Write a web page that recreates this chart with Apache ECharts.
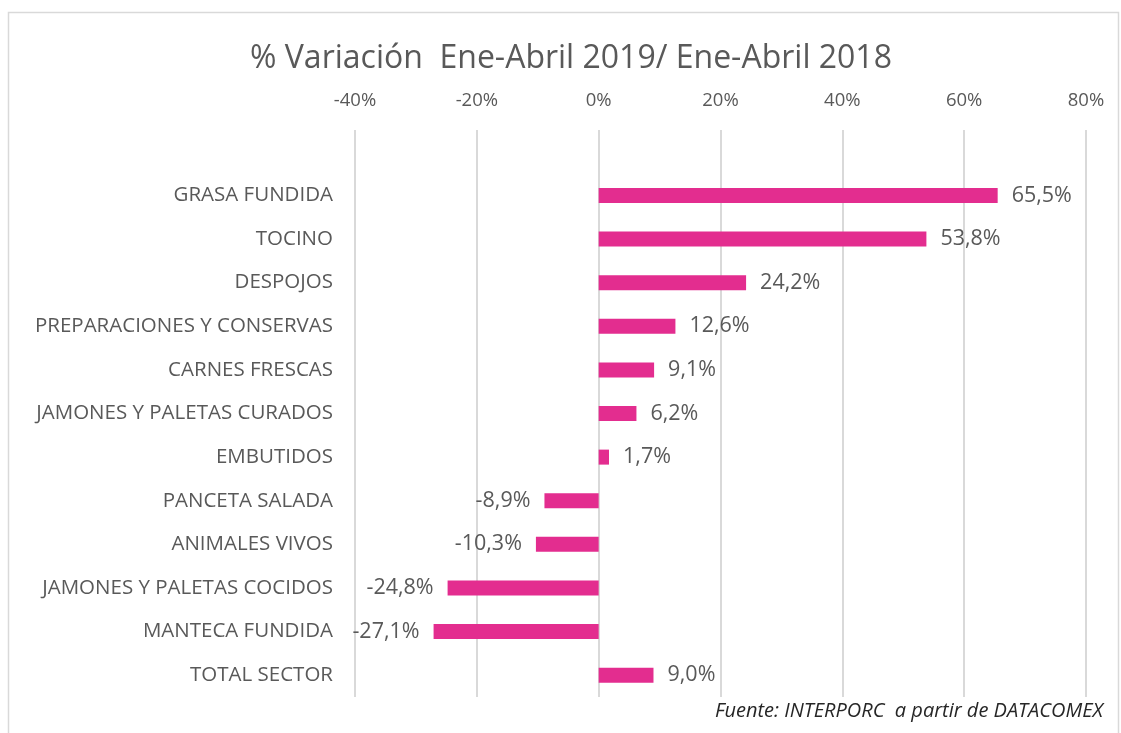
<!DOCTYPE html>
<html>
<head>
<meta charset="utf-8">
<script src="https://cdn.jsdelivr.net/npm/echarts@6/dist/echarts.min.js"></script>
<style>
   html, body { margin: 0; padding: 0; background: #fff; }
   #chart { width: 1121px; height: 733px; }
</style>
</head>
<body>
<div id="chart"></div>
<script>
// first row is the empty spacer row of the original sheet
const categories = ['', 'GRASA FUNDIDA', 'TOCINO', 'DESPOJOS', 'PREPARACIONES Y CONSERVAS', 'CARNES FRESCAS',
   'JAMONES Y PALETAS CURADOS', 'EMBUTIDOS', 'PANCETA SALADA', 'ANIMALES VIVOS',
   'JAMONES Y PALETAS COCIDOS', 'MANTECA FUNDIDA', 'TOTAL SECTOR']
const variacion = [null, 65.5, 53.8, 24.2, 12.6, 9.1, 6.2, 1.7, -8.9, -10.3, -24.8, -27.1, 9.0]
const xTicks = [-40, -20, 0, 20, 40, 60, 80]

const font = '"Open Sans", sans-serif'
const grey = '#595959'

let myChart = echarts.init(document.getElementById('chart'))

let barData = variacion.map(v => {
   if (v === null) return '-'
   return {
      value: v,
      label: { position: v < 0 ? 'left' : 'right' }
   }
})

let option = {
   animation: false,
   title: {
      text: '% Variación  Ene-Abril 2019/ Ene-Abril 2018',
      left: 245,
      top: 38,
      textStyle: {
         fontFamily: font,
         fontSize: 32,
         fontWeight: 'normal',
         color: grey
      }
   },
   graphic: [
      {
         type: 'rect',
         shape: { x: 8.5, y: 12.5, width: 1110, height: 740 },
         style: { fill: 'none', stroke: '#d9d9d9', lineWidth: 1.5 }
      },
      {
         type: 'text',
         right: 18,
         top: 701,
         style: {
            text: 'Fuente: INTERPORC  a partir de DATACOMEX',
            font: 'italic 20px "Open Sans", sans-serif',
            fill: '#262626'
         }
      }
   ],
   grid: {
      left: 355,
      right: 35,
      top: 130,
      bottom: 36
   },
   xAxis: {
      type: 'value',
      position: 'top',
      min: xTicks[0],
      max: xTicks[xTicks.length - 1],
      interval: 20,
      axisLine: { show: false },
      axisTick: { show: false },
      axisLabel: {
         margin: 20,
         fontFamily: font,
         fontSize: 18.5,
         color: grey,
         formatter: v => v + '%'
      },
      splitLine: {
         show: true,
         lineStyle: { color: '#d9d9d9', width: 2 }
      }
   },
   yAxis: {
      type: 'category',
      data: categories,
      inverse: true,
      axisLine: { show: false },
      axisTick: { show: false },
      axisLabel: {
         margin: 22,
         fontFamily: font,
         fontSize: 20.5,
         color: grey
      }
   },
   series: [
      {
         name: 'Variación',
         type: 'bar',
         data: barData,
         barWidth: 15,
         itemStyle: {
            color: '#e32d8f'
         },
         label: {
            show: true,
            distance: 14,
            fontFamily: font,
            fontSize: 21.5,
            color: grey,
            formatter: p => p.value.toFixed(1).replace('.', ',') + '%'
         }
      }
   ]
}

myChart.setOption(option)
</script>
</body>
</html>
